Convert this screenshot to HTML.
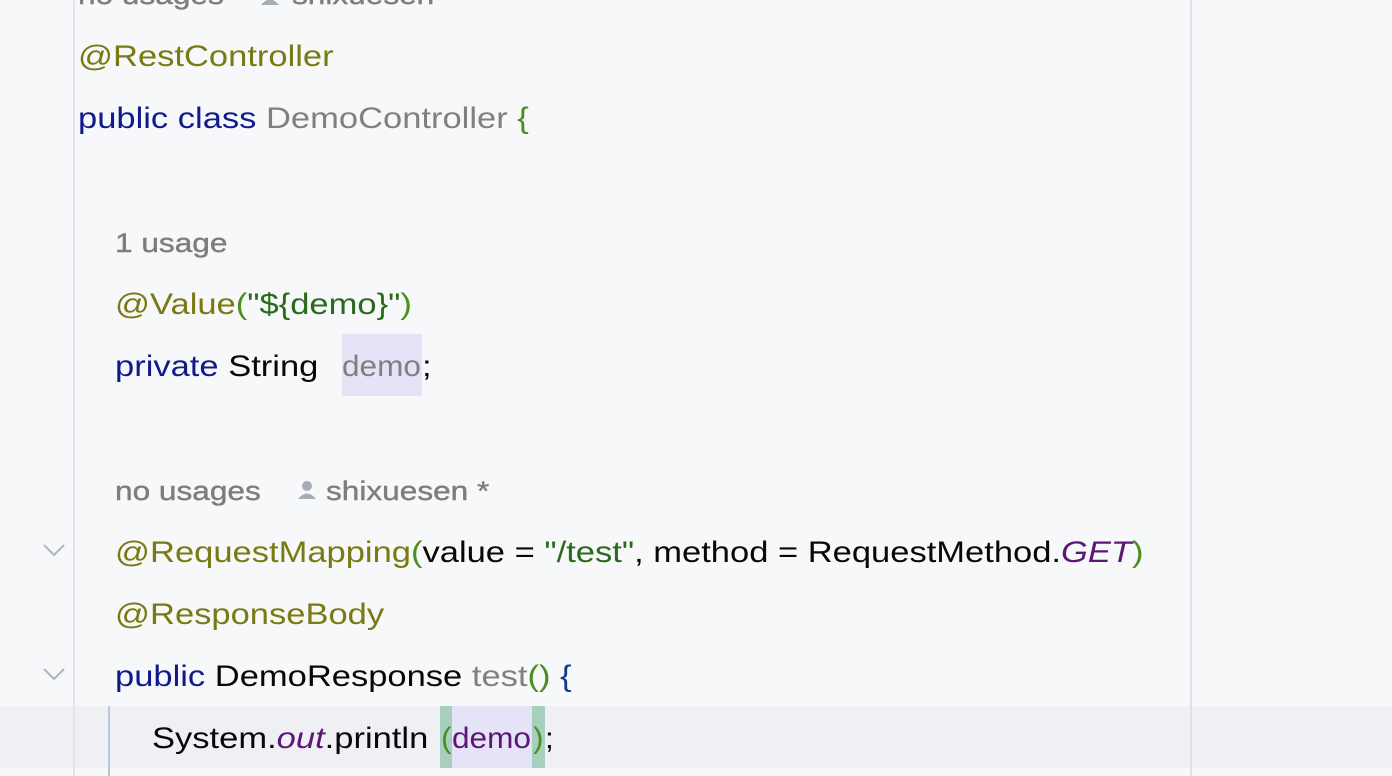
<!DOCTYPE html>
<html><head><meta charset="utf-8"><style>
html,body{margin:0;padding:0;}
body{width:1392px;height:776px;background:#f7f8fa;position:relative;overflow:hidden;font-family:"Liberation Sans","DejaVu Sans",sans-serif;font-size:29.5px;color:#080808;}
.l{position:absolute;height:62px;line-height:62px;white-space:pre;transform:scaleX(1.17);transform-origin:0 0;}
.n{transform:scaleX(1.07)}
.an{color:#7a7a14}.kw{color:#101a8c}.gr{color:#808080}.gb{color:#4b8f1e}.st{color:#2a6a1a}.pu{color:#5b1676}.bl{color:#123a8a}
.hint{color:#7d7d7d;font-size:27px;transform:scaleX(1.17);-webkit-text-stroke:0.4px #7d7d7d}
</style></head><body>
<div style="position:absolute;left:0;top:706px;width:1392px;height:62px;background:#eff0f3"></div>
<div style="position:absolute;left:73px;top:0;width:2px;height:776px;background:#e3e4e8"></div>
<div style="position:absolute;left:1190px;top:0;width:2px;height:776px;background:#e0e1e5"></div>
<div style="position:absolute;left:108px;top:706px;width:2px;height:70px;background:#b9c7dd"></div>
<div style="position:absolute;left:342px;top:334px;width:80px;height:62px;background:#e5e3f7"></div>
<div style="position:absolute;left:440px;top:706px;width:12px;height:62px;background:#a7cfbd"></div>
<div style="position:absolute;left:452px;top:706px;width:80px;height:62px;background:#e5e3f7"></div>
<div style="position:absolute;left:532px;top:706px;width:13px;height:62px;background:#a7cfbd"></div>
<svg style="position:absolute;left:40px;top:540px" width="30" height="150"><polyline points="4,5 14,15 24,5" fill="none" stroke="#b0b4bd" stroke-width="2"/><polyline points="4,129 14,139 24,129" fill="none" stroke="#b0b4bd" stroke-width="2"/></svg>
<svg style="position:absolute;left:260px;top:-14px" width="20" height="20"><circle cx="10" cy="6" r="5" fill="#a8acb5"/><path d="M1 19 Q10 8 19 19Z" fill="#a8acb5"/></svg>
<div class="l hint" style="left:78px;top:-36px">no usages</div>
<div class="l hint" style="left:292px;top:-36px">shixuesen</div>
<div class="l an" style="left:78px;top:26px">@RestController</div>
<div class="l" style="left:78px;top:88px"><span class="kw">public class</span> <span class="gr">DemoController</span> <span class="gb">{</span></div>
<div class="l hint" style="left:115px;top:212px">1 usage</div>
<div class="l" style="left:115px;top:274px"><span class="an">@Value</span><span class="gb">(</span><span class="st">"${demo}"</span><span class="gb">)</span></div>
<div class="l" style="left:115px;top:336px"><span class="kw">private</span> String</div>
<div class="l n gr" style="left:342px;top:336px">demo</div>
<div class="l" style="left:422px;top:336px">;</div>
<svg style="position:absolute;left:297px;top:480px" width="20" height="20"><circle cx="10" cy="6" r="5" fill="#a8acb5"/><path d="M1 19 Q10 8 19 19Z" fill="#a8acb5"/></svg>
<div class="l hint" style="left:115px;top:460px">no usages</div>
<div class="l hint" style="left:326px;top:460px">shixuesen *</div>
<div class="l" style="left:115px;top:522px"><span class="an">@RequestMapping</span><span class="gb">(</span>value = <span class="st">"/test"</span>, method = RequestMethod.<i class="pu">GET</i><span class="gb">)</span></div>
<div class="l an" style="left:115px;top:584px">@ResponseBody</div>
<div class="l" style="left:115px;top:646px"><span class="kw">public</span> DemoResponse <span class="gr">test</span><span class="gb">()</span> <span class="bl">{</span></div>
<div class="l" style="left:152px;top:708px">System.<i class="pu">out</i>.println</div>
<div class="l n gb" style="left:441px;top:708px">(</div>
<div class="l n pu" style="left:452px;top:708px">demo</div>
<div class="l n gb" style="left:533px;top:708px">)</div>
<div class="l n" style="left:545px;top:708px">;</div>
</body></html>
